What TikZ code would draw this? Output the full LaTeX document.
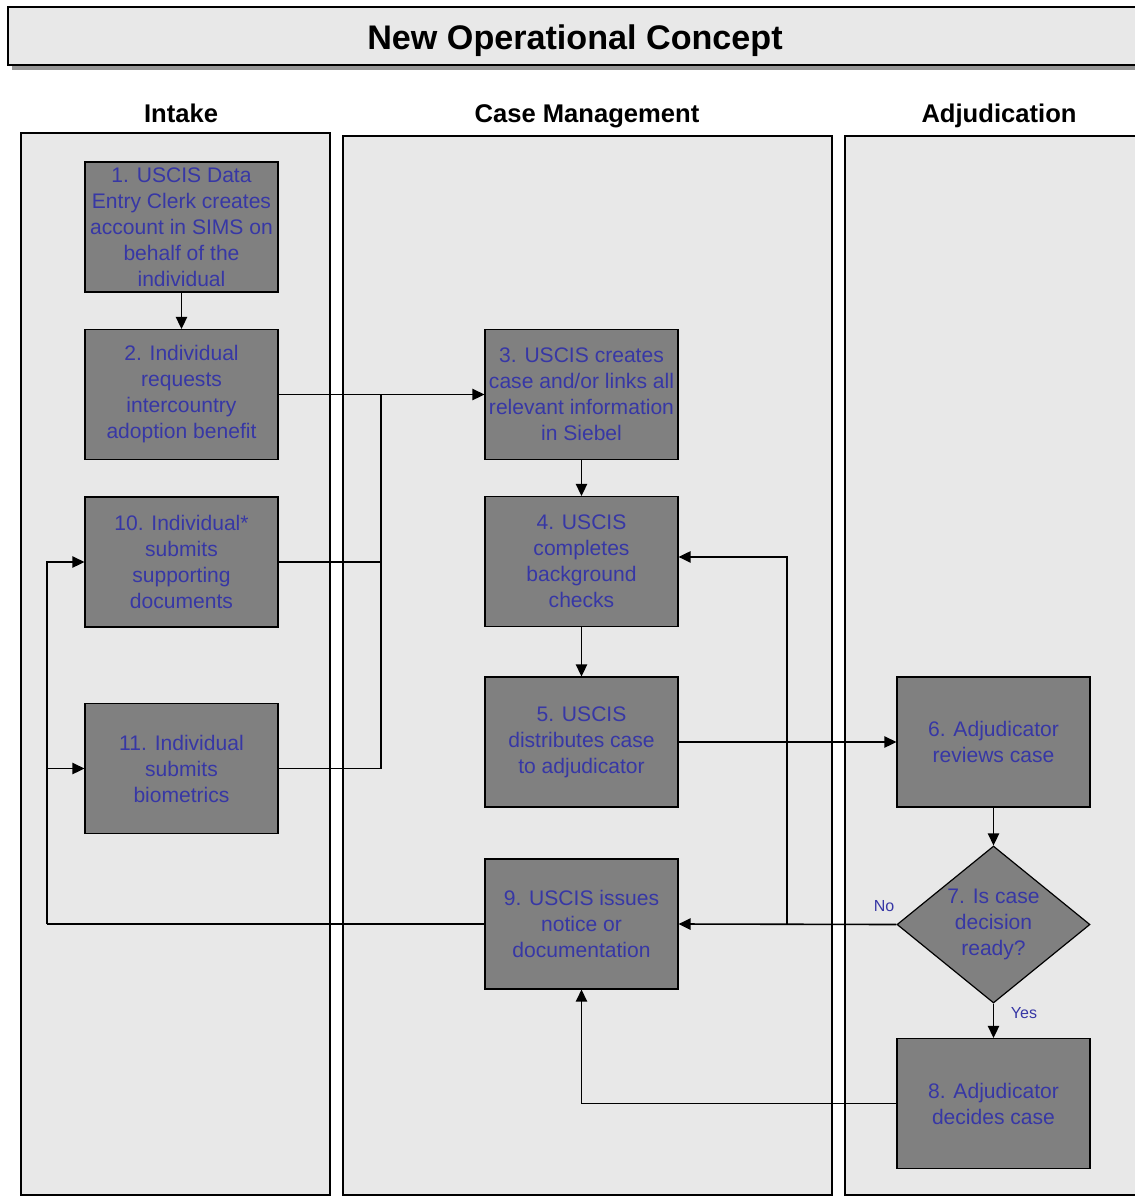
\documentclass[tikz,border=0pt]{standalone}
\usepackage{fontspec}
\setmainfont{Liberation Sans}
\usepackage{tikz}
\usetikzlibrary{shapes.geometric,arrows.meta}
\definecolor{lanegray}{RGB}{232,232,232}
\definecolor{boxgray}{RGB}{128,128,128}
\definecolor{shadowgray}{RGB}{150,150,150}
\definecolor{steptext}{RGB}{55,55,165}
\tikzset{
  lane/.style={draw=black,line width=1.3pt,fill=lanegray},
  lanehead/.style={font=\bfseries\fontsize{19.2}{22}\selectfont,inner sep=0.75pt,anchor=base},
  stepbox/.style={draw=black,line width=0.9pt,fill=boxgray,text=steptext,
    minimum width=144.75pt,minimum height=97.5pt,inner sep=0pt,align=center,
    font=\fontsize{15.8}{19.5}\selectfont},
  decision/.style={stepbox,diamond,minimum width=144.75pt,minimum height=117.75pt,aspect=1.23},
  flowline/.style={line width=1.2pt,draw=black},
  flow/.style={flowline,-{Triangle[length=9pt,width=8.5pt]}},
  branchlabel/.style={text=steptext,font=\fontsize{12}{14}\selectfont,inner sep=0.75pt}
}

\begin{document}
\begin{tikzpicture}[x=0.75pt,y=0.75pt,yscale=-1,xscale=1]
\clip (0,0) rectangle (1135,1197);

%Shape: title bar with shadow
\fill [shadowgray] (12,11) rectangle (1160,70);
\draw [line width=1.3pt,fill=lanegray] (8,7) rectangle (1160,65);
\node (title) at (575,49) [anchor=base,font=\bfseries\fontsize{25.6}{30}\selectfont] {New Operational Concept};

%Shape: swim lanes
\draw [lane] (21,133) rectangle (330,1195);
\draw [lane] (343,136) rectangle (832,1195);
\draw [lane] (845,136) rectangle (1160,1195);

% Text Node: lane headings
\node (intake) at (181,122) [lanehead] {Intake};
\node (casemgmt) at (587,122) [lanehead] {Case Management};
\node (adjud) at (999,122) [lanehead] {Adjudication};

% Intake steps
\node (b1) at (181.5,227) [stepbox] {1. USCIS Data\\Entry Clerk creates\\account in SIMS on\\behalf of the\\individual};
\node (b2) at (181.5,394.5) [stepbox] {2. Individual\\requests\\intercountry\\adoption benefit};
\node (b10) at (181.5,562) [stepbox] {10. Individual*\\submits\\supporting\\documents};
\node (b11) at (181.5,768.5) [stepbox] {11. Individual\\submits\\biometrics};

% Case management steps
\node (b3) at (581.5,394.5) [stepbox] {3. USCIS creates\\case and/or links all\\relevant information\\in Siebel};
\node (b4) at (581.5,561.5) [stepbox] {4. USCIS\\completes\\background\\checks};
\node (b5) at (581.5,742) [stepbox] {5. USCIS\\distributes case\\to adjudicator};
\node (b9) at (581.5,924) [stepbox] {9. USCIS issues\\notice or\\documentation};

% Adjudication steps
\node (b6) at (993.5,742) [stepbox] {6. Adjudicator\\reviews case};
\node (d7) at (993.5,924.5) [decision] {7. Is case\\decision\\ready?};
\node (b8) at (993.5,1103.5) [stepbox] {8. Adjudicator\\decides case};

%Straight Lines: connectors
\coordinate (merge) at (381,394.5);
\coordinate (nofork) at (787,924.5);
\coordinate (back) at (47,924);

\draw [flow] (b1) -- (b2);
\draw [flow] (b2) -- (b3);
\draw [flowline] (b10.east) -| (merge);
\draw [flowline] (b11.east) -| (merge);
\draw [flow] (b3) -- (b4);
\draw [flow] (b4) -- (b5);
\draw [flow] (b5) -- (b6);
\draw [flow] (b6) -- (d7);
\draw [flow] (d7) -- (b8);
\node (yeslabel) at (1024,1013) [branchlabel] {Yes};
\draw [flow] (d7.west) -- (b9.east);
\node (nolabel) at (884,906) [branchlabel] {No};
\draw [flow] (nofork) |- ([yshift=-3.4pt]b4.east);
\draw [flowline] (b9.west) -- (back);
\draw [flow] (back) |- (b10.west);
\draw [flow] (back) |- (b11.west);
\draw [flow] (b8.west) -| (b9.south);

\end{tikzpicture}
\end{document}
